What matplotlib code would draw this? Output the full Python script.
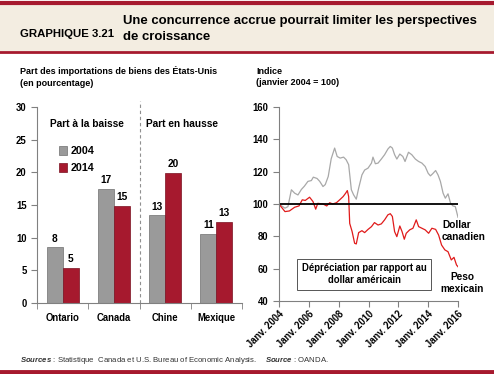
import matplotlib
matplotlib.use('Agg')
import matplotlib.pyplot as plt
from matplotlib import font_manager
from matplotlib.patches import Rectangle
from matplotlib.lines import Line2D

# bar chart data (share of US goods imports, %)
countries = ['Ontario', 'Canada', 'Chine', 'Mexique']
share_2004 = [8.5, 17.4, 13.4, 10.6]
share_2014 = [5.4, 14.8, 19.9, 12.4]
labels_2004 = ['8', '17', '13', '11']
labels_2014 = ['5', '15', '20', '13']

# exchange-rate indices (Jan 2004 = 100)
cad_dates = [2004.0, 2004.4, 2004.6, 2004.83, 2005.05, 2005.27, 2005.5, 2005.7, 2005.94, 2006.17,
             2006.3, 2006.55, 2006.73, 2006.95, 2007.1, 2007.3, 2007.5, 2007.73, 2007.9, 2008.1,
             2008.33, 2008.5, 2008.67, 2008.85, 2009.0, 2009.18, 2009.34, 2009.56, 2009.74, 2009.97,
             2010.2, 2010.3, 2010.46, 2010.64, 2010.86, 2011.08, 2011.3, 2011.46, 2011.6, 2011.75,
             2011.9, 2012.1, 2012.3, 2012.45, 2012.68, 2012.9, 2013.14, 2013.36, 2013.58, 2013.8,
             2014.0, 2014.15, 2014.3, 2014.5, 2014.66, 2014.82, 2015.0, 2015.15, 2015.33, 2015.5,
             2015.66, 2015.82, 2016.0]
cad_index = [100, 97.4, 98.4, 108.8, 106.7, 105.6, 109, 111, 114, 114.5,
             116.6, 115.8, 114, 110.8, 112, 117, 128, 134.6, 129.4, 128.4,
             129, 127.4, 124.3, 108.8, 105.7, 103, 109.8, 118, 121, 122.2,
             125.3, 129, 124.9, 125.3, 127.8, 130.5, 134, 135.6, 134.6, 130.5,
             127.8, 130.9, 129.4, 126.3, 132, 130.5, 127.8, 126.3, 125.3, 123.2,
             119, 117.4, 118.7, 120.7, 118, 114, 106.7, 103.6, 106.3, 100.5,
             98.8, 98.4, 91.8]

mxn_dates = [2004.0, 2004.1, 2004.4, 2004.7, 2005.05, 2005.34, 2005.56, 2005.76, 2006.05, 2006.28,
             2006.46, 2006.6, 2006.95, 2007.2, 2007.4, 2007.6, 2007.85, 2008.07, 2008.3, 2008.47,
             2008.58, 2008.67, 2008.74, 2008.9, 2009.07, 2009.18, 2009.34, 2009.56, 2009.74, 2009.97,
             2010.2, 2010.4, 2010.64, 2010.86, 2011.08, 2011.3, 2011.46, 2011.6, 2011.75, 2011.9,
             2012.1, 2012.25, 2012.4, 2012.53, 2012.76, 2012.98, 2013.2, 2013.36, 2013.58, 2013.8,
             2014.03, 2014.25, 2014.5, 2014.7, 2014.9, 2015.12, 2015.33, 2015.55, 2015.73, 2015.9,
             2016.0]
mxn_index = [100, 98.8, 95.3, 95.7, 98, 98.8, 102.6, 102.2, 104.2, 101.5,
             96.8, 100.4, 100, 98.8, 100.8, 100, 100.8, 102.6, 104.6, 106.7,
             108.3, 104.6, 88, 83, 75.7, 75.3, 82.3, 83.5, 82.3, 84.3,
             86, 88.5, 87, 87.7, 90.2, 93.3, 94, 92.3, 82.9, 79.8,
             86.4, 82.9, 78.2, 81.9, 84, 85, 90.2, 86, 85, 84,
             81.9, 85, 84.3, 80.8, 74.6, 71.6, 70.5, 65.4, 67, 62.3,
             61.2]

year_ticks = [2004, 2006, 2008, 2010, 2012, 2014, 2016]

RED = '#a6192e'
GREY = '#9a9a9a'
BEIGE = '#f3ede1'

names = {f.name for f in font_manager.fontManager.ttflist}
if 'Liberation Sans Narrow' in names:
    FONT = 'Liberation Sans Narrow'
    k = 1.0
else:
    FONT = 'Liberation Sans'
    k = 0.86
plt.rcParams['font.family'] = [FONT, 'DejaVu Sans']
plt.rcParams['font.weight'] = 'bold'
plt.rcParams['mathtext.fontset'] = 'custom'
plt.rcParams['mathtext.it'] = FONT + ':italic'
plt.rcParams['mathtext.rm'] = FONT

fig = plt.figure(figsize=(4.94, 3.74), dpi=100)
W, H = 494, 374


def fx(px):
    return px / W


def fy(py):
    return 1 - py / H


# header band
fig.patches.append(Rectangle((0, fy(51)), 1, fy(4) - fy(51), transform=fig.transFigure,
                             facecolor=BEIGE, edgecolor='none', zorder=0))
for y, lw in [(2.5, 3), (51.5, 2), (372, 3.5)]:
    fig.lines.append(Line2D([0, 1], [fy(y), fy(y)], transform=fig.transFigure, color=RED, lw=lw))

fig.text(fx(20), fy(34), 'GRAPHIQUE 3.21', fontsize=9.5 * k, fontweight='bold', va='center')
fig.text(fx(123), fy(29), 'Une concurrence accrue pourrait limiter les perspectives\nde croissance',
         fontsize=11 * k, fontweight='bold', va='center', linespacing=1.55)

fig.text(fx(20), fy(77), 'Part des importations de biens des États-Unis\n(en pourcentage)',
         fontsize=7.5 * k, fontweight='bold', va='center', linespacing=1.3)
fig.text(fx(256), fy(77), 'Indice\n(janvier 2004 = 100)',
         fontsize=7.5 * k, fontweight='bold', va='center', linespacing=1.3)

# ---- bar chart ----
ax1 = fig.add_axes([fx(37), fy(303), fx(242) - fx(37), fy(107) - fy(303)])
xs = list(range(len(countries)))
bw = 0.31
b1 = ax1.bar([x - bw / 2 for x in xs], share_2004, bw, color=GREY, edgecolor='#707070', lw=0.5,
             label='2004')
b2 = ax1.bar([x + bw / 2 for x in xs], share_2014, bw, color=RED, edgecolor='#7a1020', lw=0.5,
             label='2014')
for rect, lab in zip(b1, labels_2004):
    ax1.text(rect.get_x() + rect.get_width() / 2, rect.get_height() + 0.6, lab,
             ha='center', va='bottom', fontsize=8.5 * k, fontweight='bold')
for rect, lab in zip(b2, labels_2014):
    ax1.text(rect.get_x() + rect.get_width() / 2, rect.get_height() + 0.6, lab,
             ha='center', va='bottom', fontsize=8.5 * k, fontweight='bold')

ax1.set_xlim(-0.5, 3.5)
ax1.set_ylim(0, 30)
ax1.set_yticks(range(0, 31, 5))
ax1.set_xticks(xs)
ax1.set_xticklabels(countries)
ax1.set_xticks([-0.5, 0.5, 1.5, 2.5, 3.5], minor=True)
ax1.tick_params(axis='x', which='major', length=0, pad=7, labelsize=8 * k)
ax1.tick_params(axis='x', which='minor', length=4, direction='out', color='#808080')
ax1.tick_params(axis='y', length=4, direction='out', color='#808080', labelsize=8 * k)
for s in ['top', 'right']:
    ax1.spines[s].set_visible(False)
for s in ['left', 'bottom']:
    ax1.spines[s].set_color('#808080')
    ax1.spines[s].set_linewidth(0.8)
ax1.axvline(1.5, ymin=0, ymax=1.03, color='#909090', lw=0.8, ls=(0, (3, 2.5)), clip_on=False)
ax1.text(0.48, 27.4, 'Part à la baisse', ha='center', va='center', fontsize=8.5 * k, fontweight='bold')
ax1.text(2.33, 27.4, 'Part en hausse', ha='center', va='center', fontsize=8.5 * k, fontweight='bold')
ax1.legend(loc='upper left', bbox_to_anchor=(0.06, 0.85), frameon=False, handlelength=0.7,
           handleheight=0.9, handletextpad=0.4, labelspacing=0.6,
           prop={'size': 9 * k, 'weight': 'bold'})

# ---- line chart ----
ax2 = fig.add_axes([fx(279), fy(301), fx(458) - fx(279), fy(107) - fy(301)])
ax2.plot(cad_dates, cad_index, color='#a8a8a8', lw=0.9)
ax2.plot(mxn_dates, mxn_index, color='#e01b1b', lw=0.9)
ax2.axhline(100, color='black', lw=1.3)
ax2.set_xlim(2004, 2016)
ax2.set_ylim(40, 160)
ax2.set_yticks(range(40, 161, 20))
ax2.set_xticks(year_ticks)
ax2.set_xticklabels(['Janv. %d' % y for y in year_ticks], rotation=45, ha='right',
                    rotation_mode='anchor')
ax2.tick_params(axis='both', length=4, direction='out', color='#808080', labelsize=8 * k)
ax2.tick_params(axis='x', pad=2)
for s in ['top', 'right']:
    ax2.spines[s].set_visible(False)
for s in ['left', 'bottom']:
    ax2.spines[s].set_color('#808080')
    ax2.spines[s].set_linewidth(0.8)

ax2.text(2014.93, 83.3, 'Dollar\ncanadien', ha='left', va='center', fontsize=8.5 * k,
         fontweight='bold', linespacing=1.2, clip_on=False)
ax2.text(2016.27, 51.2, 'Peso\nmexicain', ha='center', va='center', fontsize=8.5 * k,
         fontweight='bold', linespacing=1.2, clip_on=False)
ax2.text(2009.7, 56.7, 'Dépréciation par rapport au\ndollar américain', ha='center', va='center',
         fontsize=8 * k, fontweight='bold', linespacing=1.3,
         bbox=dict(boxstyle='square,pad=0.45', facecolor='white', edgecolor='#555555', lw=0.7))

fig.text(fx(20), fy(362), '$\\it{Sources}$ : Statistique  Canada et U.S. Bureau of Economic Analysis.',
         fontsize=6.5 * k, fontweight='normal', va='baseline', color='#333333')
fig.text(fx(265), fy(362), '$\\it{Source}$ : OANDA.', fontsize=6.5 * k, fontweight='normal',
         va='baseline', color='#333333')

fig.savefig('out.png', dpi=100, facecolor='white')
